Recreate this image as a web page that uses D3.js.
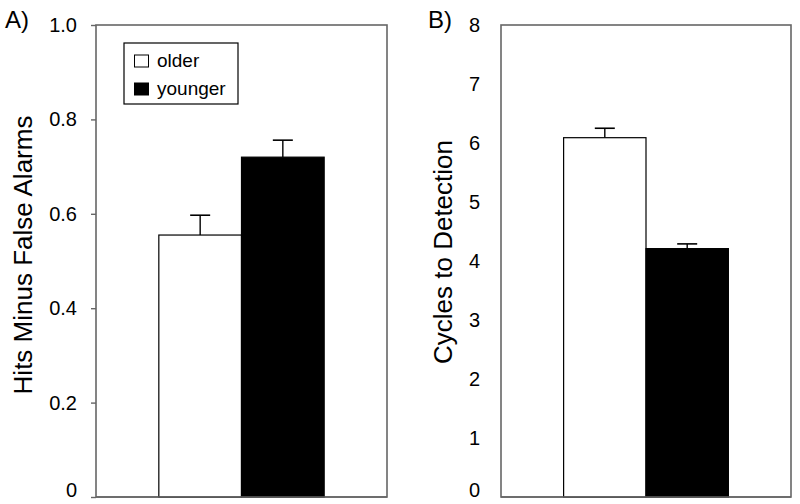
<!DOCTYPE html>
<html><head><meta charset="utf-8">
<script src="https://cdn.jsdelivr.net/npm/d3@7"></script>
<style>body{margin:0;background:#fff}svg{display:block}text{font-family:"Liberation Sans",Arial,sans-serif;fill:#000}</style>
</head><body><svg id="c" width="800" height="504"></svg>
<script>
const groups = ["older", "younger"];
const hitsValues = [0.555, 0.72];
const hitsErrors = [0.042, 0.036];
const hitsTicks = [0, 0.2, 0.4, 0.6, 0.8, 1.0];
const hitsTickLabels = ["0", "0.2", "0.4", "0.6", "0.8", "1.0"];
const cycleValues = [6.09, 4.21];
const cycleErrors = [0.16, 0.08];
const cycleTicks = [0, 1, 2, 3, 4, 5, 6, 7, 8];
const fills = ["#ffffff", "#000000"];

const svg = d3.select("#c");

function panel(cfg) {
  const g = svg.append("g");
  const y = d3.scaleLinear().domain(cfg.domain).range([cfg.bottom, cfg.top]);
  const x = d3.scaleBand().domain(groups).range([cfg.left, cfg.right]).paddingInner(0).paddingOuter(0.76);
  g.append("rect").attr("x", cfg.left).attr("y", cfg.top)
    .attr("width", cfg.right - cfg.left).attr("height", cfg.bottom - cfg.top)
    .attr("fill", "none").attr("stroke", "#666").attr("stroke-width", 1.6);
  const ax = d3.axisLeft(y).tickValues(cfg.ticks).tickFormat((d, i) => cfg.labels[i])
    .tickSize(cfg.tickSize).tickPadding(cfg.pad);
  const axg = g.append("g").attr("transform", `translate(${cfg.left},0)`).call(ax);
  axg.select(".domain").remove();
  axg.selectAll(".tick line").attr("stroke", "#666").attr("stroke-width", 1.4);
  axg.selectAll(".tick text").style("font-size", "20px").attr("fill", "#000")
    .style("font-family", '"Liberation Sans",Arial,sans-serif')
    .attr("y", d => d === 0 ? -7 : 0);
  cfg.values.forEach((v, i) => {
    const cx = x(groups[i]) + x.bandwidth() / 2;
    g.append("line").attr("x1", cx).attr("x2", cx).attr("y1", y(v)).attr("y2", y(v + cfg.errors[i]))
      .attr("stroke", "#000").attr("stroke-width", 1.4);
    g.append("line").attr("x1", cx - 10).attr("x2", cx + 10).attr("y1", y(v + cfg.errors[i])).attr("y2", y(v + cfg.errors[i]))
      .attr("stroke", "#000").attr("stroke-width", 1.6);
  });
  g.selectAll("rect.bar").data(cfg.values).enter().append("rect").attr("class", "bar")
    .attr("x", (d, i) => x(groups[i])).attr("width", x.bandwidth())
    .attr("y", d => y(d)).attr("height", d => cfg.bottom - y(d))
    .attr("fill", (d, i) => fills[i]).attr("stroke", "#000").attr("stroke-width", 1.2);
  g.append("line").attr("x1", cfg.left).attr("x2", cfg.right).attr("y1", cfg.bottom).attr("y2", cfg.bottom)
    .attr("stroke", "#666").attr("stroke-width", 1.6);
  g.append("text").attr("transform", `translate(${cfg.titleX},${cfg.titleY}) rotate(-90)`)
    .attr("text-anchor", "middle").style("font-size", "26px").text(cfg.title);
  g.append("text").attr("x", cfg.tagX).attr("y", cfg.tagY).style("font-size", "24px").text(cfg.tag);
  return {x, y, g};
}

panel({left: 96, right: 387, top: 25, bottom: 497, domain: [0, 1],
  ticks: hitsTicks, labels: hitsTickLabels, tickSize: 5, pad: 14,
  values: hitsValues, errors: hitsErrors, title: "Hits Minus False Alarms",
  titleX: 32, titleY: 255, tag: "A)", tagX: 5, tagY: 28});

panel({left: 501, right: 791, top: 25, bottom: 497, domain: [0, 8],
  ticks: cycleTicks, labels: cycleTicks.map(String), tickSize: 0, pad: 21,
  values: cycleValues, errors: cycleErrors, title: "Cycles to Detection",
  titleX: 452, titleY: 252, tag: "B)", tagX: 428, tagY: 28});

const lg = svg.append("g");
lg.append("rect").attr("x", 124).attr("y", 43).attr("width", 114).attr("height", 61)
  .attr("fill", "#fff").attr("stroke", "#000").attr("stroke-width", 1.2);
groups.forEach((k, i) => {
  const yy = 55 + i * 28;
  lg.append("rect").attr("x", 134.5).attr("y", yy).attr("width", 14).attr("height", 12)
    .attr("fill", fills[i]).attr("stroke", "#000").attr("stroke-width", 1);
  lg.append("text").attr("x", 157).attr("y", yy + 12).style("font-size", "19px").text(k);
});
</script></body></html>
